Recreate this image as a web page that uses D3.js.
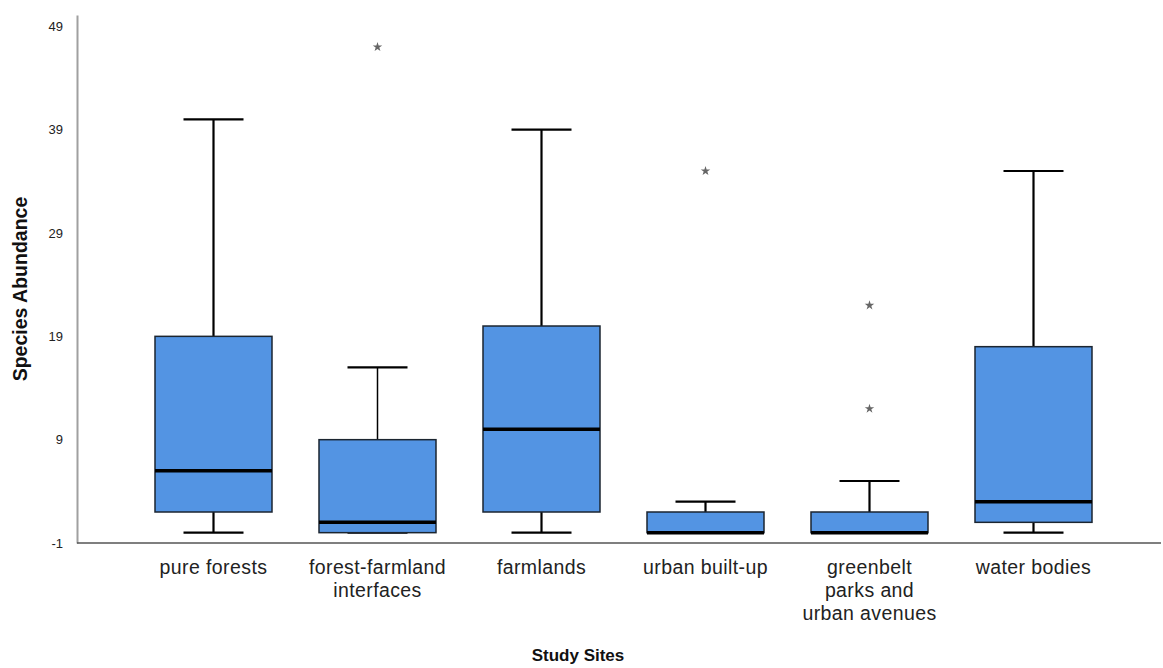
<!DOCTYPE html>
<html>
<head>
<meta charset="utf-8">
<script src="https://cdn.jsdelivr.net/npm/d3@7"></script>
<style>
  body { margin: 0; background: #fff; }
  svg text { font-family: Arial, "Liberation Sans", sans-serif; }
</style>
</head>
<body>
<div id="chart"></div>
<script>
const categories = ["pure forests", "forest-farmland interfaces", "farmlands", "urban built-up", "greenbelt parks and urban avenues", "water bodies"];
const labelLines = [["pure forests"], ["forest-farmland", "interfaces"], ["farmlands"], ["urban built-up"], ["greenbelt", "parks and", "urban avenues"], ["water bodies"]];
const whiskerLow = [0, 0, 0, 0, 0, 0];
const q1 = [2, 0, 2, 0, 0, 1];
const medians = [6, 1, 10, 0, 0, 3];
const q3 = [19, 9, 20, 2, 2, 18];
const whiskerHigh = [40, 16, 39, 3, 5, 35];
const outliers = [[], [47], [], [35], [22, 12], []];
const yTicks = [-1, 9, 19, 29, 39, 49];

const W = 1163, H = 668;
const margin = {top: 15, right: 3, bottom: 125, left: 77};

const svg = d3.select("#chart").append("svg")
    .attr("width", W)
    .attr("height", H);

const x = d3.scaleBand()
    .domain(categories)
    .range([131.5, 1115.5])
    .paddingInner(0.2866)
    .paddingOuter(0.1433);

const y = d3.scaleLinear()
    .domain([-1, 50.1])
    .range([H - margin.bottom, margin.top]);

// axes
const axisY = d3.axisLeft(y).tickValues(yTicks).tickFormat(d => String(d)).tickSize(0).tickPadding(14);
const gy = svg.append("g")
    .attr("transform", `translate(${margin.left},0)`)
    .call(axisY);
gy.select(".domain").attr("stroke", "#a0a0a0").attr("stroke-width", 2);
gy.selectAll("text").attr("font-size", 13).attr("fill", "#222");

svg.append("line")
    .attr("x1", margin.left).attr("x2", W - 2)
    .attr("y1", y(-1)).attr("y2", y(-1))
    .attr("stroke", "#555").attr("stroke-width", 1.5);

// boxes
const boxes = svg.append("g");
const star = d3.symbol().type(d3.symbolStar).size(28);
categories.forEach((c, i) => {
    const x0 = x(c), bw = x.bandwidth(), cx = x0 + bw / 2;
    const g = boxes.append("g");
    const capW = 60;
    // whiskers
    g.append("line")
        .attr("x1", cx).attr("x2", cx)
        .attr("y1", y(whiskerHigh[i])).attr("y2", y(q3[i]))
        .attr("stroke", "#000").attr("stroke-width", i === 1 ? 1.5 : 2.2);
    g.append("line")
        .attr("x1", cx).attr("x2", cx)
        .attr("y1", y(q1[i])).attr("y2", y(whiskerLow[i]))
        .attr("stroke", "#000").attr("stroke-width", 2.2);
    g.append("line")
        .attr("x1", cx - capW / 2).attr("x2", cx + capW / 2)
        .attr("y1", y(whiskerHigh[i])).attr("y2", y(whiskerHigh[i]))
        .attr("stroke", "#000").attr("stroke-width", 2.2);
    g.append("line")
        .attr("x1", cx - capW / 2).attr("x2", cx + capW / 2)
        .attr("y1", y(whiskerLow[i])).attr("y2", y(whiskerLow[i]))
        .attr("stroke", "#000").attr("stroke-width", 2.2);
    // box
    g.append("rect")
        .attr("x", x0).attr("width", bw)
        .attr("y", y(q3[i])).attr("height", y(q1[i]) - y(q3[i]))
        .attr("fill", "#5394e3")
        .attr("stroke", "#1b2530").attr("stroke-width", 1.5);
    // median
    g.append("line")
        .attr("x1", x0).attr("x2", x0 + bw)
        .attr("y1", y(medians[i])).attr("y2", y(medians[i]))
        .attr("stroke", "#000").attr("stroke-width", 3.5);
    // outliers
    g.selectAll("path.out")
        .data(outliers[i])
        .enter().append("path")
        .attr("class", "out")
        .attr("d", star)
        .attr("transform", d => `translate(${cx},${y(d)})`)
        .attr("fill", "#666");
});

// x labels
categories.forEach((c, i) => {
    const t = svg.append("text")
        .attr("x", x(c) + x.bandwidth() / 2)
        .attr("y", 574)
        .attr("text-anchor", "middle")
        .attr("font-size", 19.5)
        .attr("letter-spacing", 0.4)
        .attr("fill", "#222");
    labelLines[i].forEach((l, j) => {
        t.append("tspan")
            .attr("x", x(c) + x.bandwidth() / 2)
            .attr("dy", j === 0 ? 0 : 23)
            .text(l);
    });
});

// axis titles
svg.append("text")
    .attr("x", 578).attr("y", 661)
    .attr("text-anchor", "middle")
    .attr("font-size", 17).attr("font-weight", "bold")
    .attr("fill", "#111")
    .text("Study Sites");

svg.append("text")
    .attr("transform", `translate(27,${(margin.top + y(-1)) / 2 + 10}) rotate(-90)`)
    .attr("text-anchor", "middle")
    .attr("font-size", 19.5).attr("font-weight", "bold")
    .attr("fill", "#111")
    .text("Species Abundance");
</script>
</body>
</html>
